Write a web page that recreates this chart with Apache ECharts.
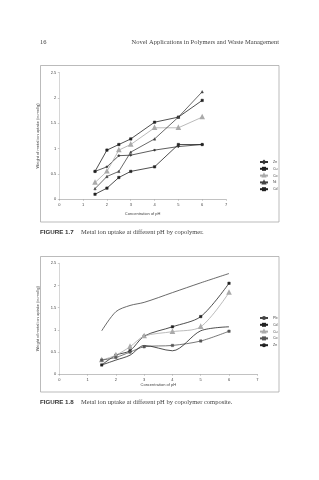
<!DOCTYPE html>
<html><head><meta charset="utf-8">
<script src="https://cdn.jsdelivr.net/npm/echarts@6/dist/echarts.min.js"></script>
<style>html,body{margin:0;padding:0;background:#fff}#c{width:319px;height:480px}</style>
</head><body><div id="c"></div>
<script>
// Figure 1.7 (copolymer)
const xTicks1 = [0,1,2,3,4,5,6,7];
const ph = [1.5,2,2.5,3,4,5,6];
const names1 = ['Zn','Cu','Co','Ni','Cd'];
const zn1 = [0.55,0.64,0.86,0.87,0.97,1.04,1.08];
const cu1 = [0.55,0.97,1.08,1.19,1.52,1.62,1.95];
const co1 = [0.33,0.55,0.97,1.08,1.41,1.41,1.62];
const ni1 = [0.21,0.45,0.55,0.93,1.19,1.62,2.12];
const cd1 = [0.10,0.22,0.43,0.55,0.64,1.08,1.08];
// Figure 1.8 (copolymer composite)
const names2 = ['Pb','Cd','Cu','Co','Zn'];
const pb2 = [0.98,1.41,1.55,1.62,1.84,2.06,2.27];
const cd2 = [0.21,0.43,0.53,0.86,1.07,1.30,2.05];
const cu2 = [0.32,0.43,0.62,0.86,0.96,1.07,1.84];
const co2 = [0.32,0.38,0.50,0.62,0.65,0.75,0.97];
const zn2 = [0.21,0.32,0.43,0.65,0.53,0.98,1.07];
const yTicks = [0,0.5,1,1.5,2,2.5];

const pairs = a => ph.map((x,i)=>[x,a[i]]);
const chart = echarts.init(document.getElementById('c'), null, {renderer:'canvas'});
const axisTxt = {fontSize:4, color:'#444', fontFamily:'Liberation Sans'};
function xAx(gi){return {type:'value',gridIndex:gi,min:0,max:7,interval:1,
  axisLine:{lineStyle:{color:'#999',width:0.6}},axisTick:{show:true,length:1.5,lineStyle:{color:'#999',width:0.5}},
  splitLine:{show:false},axisLabel:Object.assign({margin:4},axisTxt),
  name:'Concentration of pH',nameLocation:'middle',nameGap:gi===0?13:8,nameTextStyle:axisTxt};}
function yAx(gi,name){return {type:'value',gridIndex:gi,min:0,max:2.5,interval:0.5,
  axisLine:{show:true,lineStyle:{color:'#bbb',width:0.6}},axisTick:{show:true,length:1.5,lineStyle:{color:'#999',width:0.5}},
  splitLine:{show:false},axisLabel:Object.assign({margin:3,formatter:v=>String(v)},axisTxt),
  name:name,nameLocation:'middle',nameGap:10,nameRotate:90,nameTextStyle:axisTxt};}
function ser(name,data,gi,color,symbol,smooth,empty){
  return {name:name,type:'line',xAxisIndex:gi,yAxisIndex:gi,data:pairs(data),smooth:smooth?0.3:false,
    symbol:empty?'emptyTriangle':symbol,symbolSize:2.4,showSymbol:symbol!=='none',
    lineStyle:{color:color,width:0.8},itemStyle:{color:color,borderColor:color,borderWidth:0.5},emphasis:{disabled:true}};
}
const legendBase = {orient:'vertical',itemWidth:8,itemHeight:2.5,itemGap:2.8,
  textStyle:{fontSize:3.6,color:'#444',fontFamily:'Liberation Sans'}};
chart.setOption({
  animation:false,
  backgroundColor:'#fff',
  grid:[
    {left:59.3,top:72.5,width:166.7,height:126.8},
    {left:59.3,top:263.3,width:198,height:111}
  ],
  xAxis:[xAx(0),xAx(1)],
  yAxis:[yAx(0,'Weight of metal ion uptake (in mol/g)'),yAx(1,'Weight of metal ion uptake (in mol/g)')],
  legend:[
    Object.assign({},legendBase,{left:254,top:155,data:names1}),
    Object.assign({},legendBase,{left:254,top:311,data:names2.map(n=>n+' ')})
  ],
  series:[
    ser('Zn',zn1,0,'#333','diamond',false),
    ser('Cu',cu1,0,'#222','rect',false),
    ser('Co',co1,0,'#aaa','triangle',false,true),
    ser('Ni',ni1,0,'#444','triangle',false),
    ser('Cd',cd1,0,'#222','rect',false),
    ser('Pb ',pb2,1,'#444','none',true),
    ser('Cd ',cd2,1,'#222','rect',true),
    ser('Cu ',cu2,1,'#aaa','triangle',true,true),
    ser('Co ',co2,1,'#555','rect',true),
    ser('Zn ',zn2,1,'#222','none',true)
  ],
  graphic:[
    {type:'rect',shape:{x:40.5,y:65.5,width:238.5,height:156.5},style:{fill:'none',stroke:'#aaa',lineWidth:0.8},silent:true,z:-1},
    {type:'rect',shape:{x:40.5,y:256.5,width:238.5,height:135.5},style:{fill:'none',stroke:'#aaa',lineWidth:0.8},silent:true,z:-1},
    {type:'text',left:40,top:39,style:{text:'16',fontSize:6.5,fill:'#444',fontFamily:'Liberation Serif'}},
    {type:'text',right:40,top:39,style:{text:'Novel Applications in Polymers and Waste Management',fontSize:6.5,fill:'#444',fontFamily:'Liberation Serif'}},
    {type:'text',left:40,top:229,style:{text:'FIGURE 1.7',fontSize:6.2,fontWeight:'bold',fill:'#333',fontFamily:'Liberation Sans'}},
    {type:'text',left:81,top:229,style:{text:'Metal ion uptake at different pH by copolymer.',fontSize:6.5,fill:'#444',fontFamily:'Liberation Serif'}},
    {type:'text',left:40,top:399,style:{text:'FIGURE 1.8',fontSize:6.2,fontWeight:'bold',fill:'#333',fontFamily:'Liberation Sans'}},
    {type:'text',left:81,top:399,style:{text:'Metal ion uptake at different pH by copolymer composite.',fontSize:6.5,fill:'#444',fontFamily:'Liberation Serif'}}
  ]
});
</script></body></html>
